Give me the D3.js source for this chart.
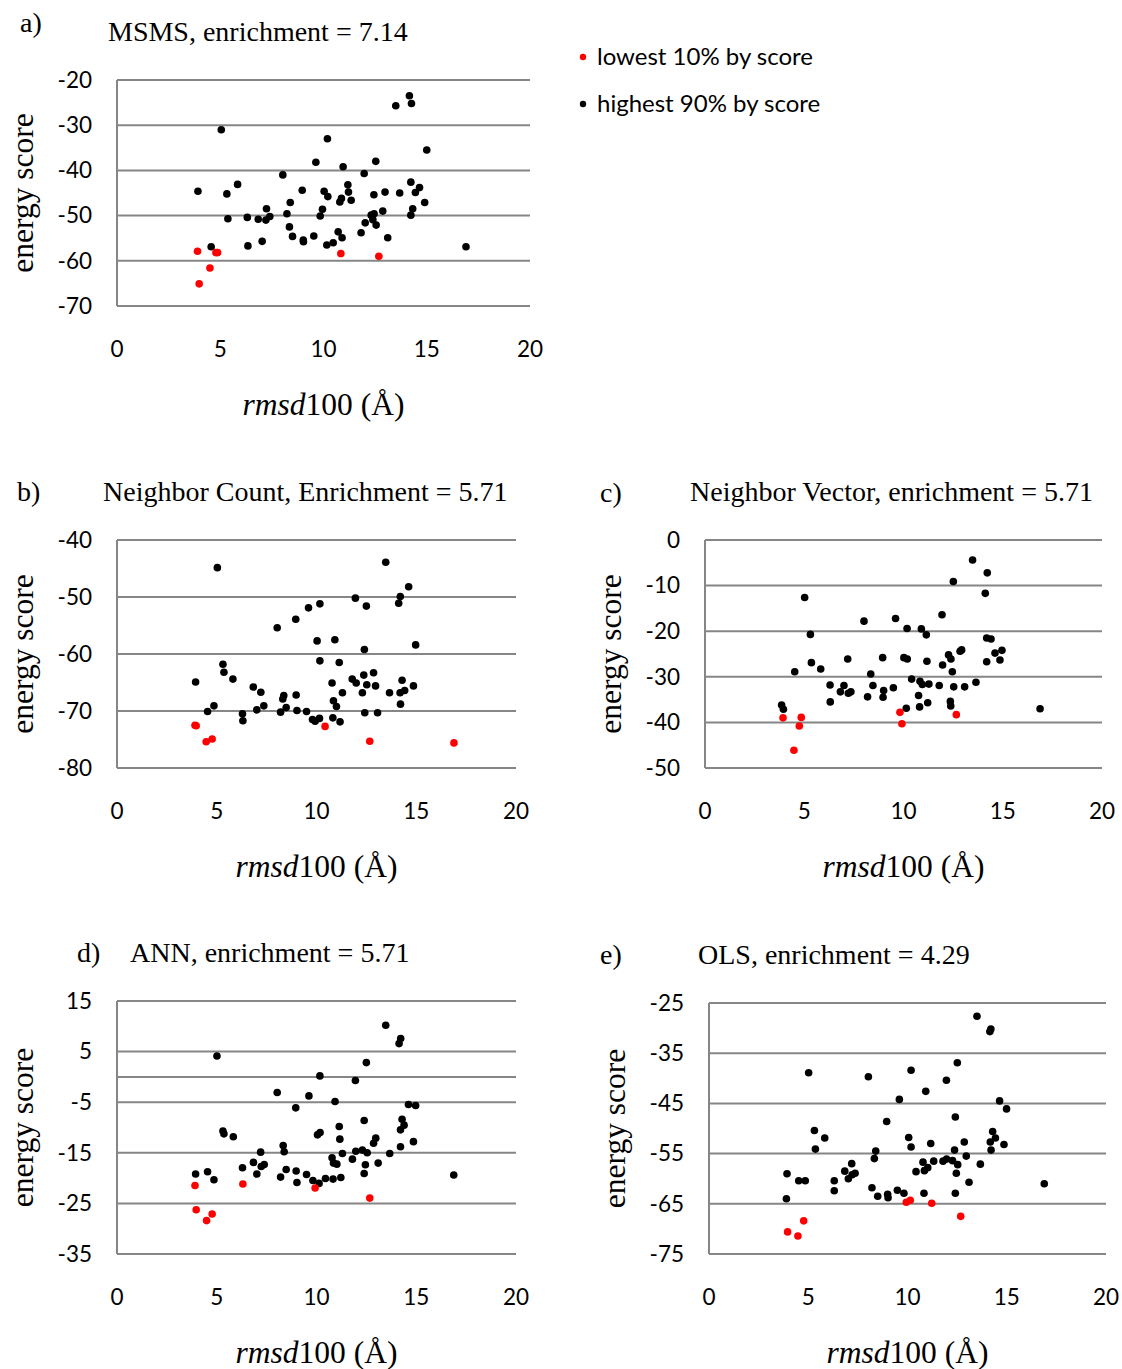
<!DOCTYPE html>
<meta charset="utf-8">
<style>
  body { margin: 0; background: #fff; }
  svg { display: block; }
  .grid line { stroke: #868686; stroke-width: 2; }
  .tick-label { font-family: Lato, "Open Sans", sans-serif; font-size: 22.5px; fill: #000; }
  .serif { font-family: "Liberation Serif", "Times New Roman", serif; fill: #000; }
  .legend text { font-family: Lato, "Open Sans", sans-serif; font-size: 24px; fill: #000; }
</style>
<body>
<script src="https://cdnjs.cloudflare.com/ajax/libs/d3/7.8.5/d3.min.js"></script>
<script>

  // ---- data: [rmsd100, energy score] ----
  var msmsHigh = [[14.16,-23.5],[14.26,-25.2],[13.5,-25.7],[5.05,-31.0],[10.19,-33.0],[15.0,-35.5],[9.63,-38.2],
    [12.53,-38.0],[10.95,-39.2],[8.03,-41.0],[11.97,-40.7],[3.92,-44.6],[5.84,-43.1],[5.32,-45.2],[8.97,-44.4],
    [10.03,-44.6],[10.21,-45.8],[11.18,-43.2],[11.21,-44.8],[10.87,-46.2],[10.79,-47.0],[11.34,-46.6],[12.44,-45.4],
    [12.98,-44.8],[13.69,-45.0],[14.23,-42.6],[14.65,-43.8],[14.45,-44.9],[14.9,-47.1],[14.32,-48.5],[14.23,-49.9],
    [8.39,-47.1],[7.24,-48.5],[8.23,-49.6],[9.95,-48.6],[9.84,-50.1],[5.37,-50.7],[6.31,-50.4],[6.84,-50.8],
    [7.21,-51.0],[7.40,-50.2],[8.35,-52.5],[8.5,-54.6],[9.02,-55.4],[9.03,-55.8],[9.53,-54.5],[12.87,-49.0],
    [12.31,-49.9],[12.45,-49.6],[12.39,-50.9],[12.55,-52.1],[12.02,-51.6],[11.82,-53.8],[10.71,-53.6],[10.9,-54.9],
    [13.11,-54.9],[10.47,-56.0],[10.16,-56.5],[7.03,-55.7],[6.34,-56.7],[4.56,-56.9],[16.9,-56.9]];
  var msmsLow = [[3.9,-57.9],[4.79,-58.2],[4.87,-58.2],[10.84,-58.4],[12.68,-59.0],[4.5,-61.6],[3.98,-65.1]];

  var countHigh = [[5.03,-44.85],[13.47,-43.9],[14.62,-48.2],[14.2,-49.9],[14.12,-51.1],[11.95,-50.2],[12.5,-51.6],
    [9.6,-51.9],[10.17,-51.2],[8.96,-53.9],[8.03,-55.4],[10.03,-57.7],[10.92,-57.5],[12.4,-59.2],[14.97,-58.4],
    [10.17,-61.2],[11.14,-61.5],[5.31,-61.8],[5.36,-63.2],[5.81,-64.4],[3.94,-64.9],[6.83,-65.8],[7.21,-66.7],
    [7.36,-69.1],[7.01,-69.8],[4.86,-69.1],[4.54,-70.1],[6.29,-70.5],[6.31,-71.7],[8.36,-67.3],[8.31,-67.9],
    [8.48,-69.4],[8.2,-70.2],[8.98,-67.2],[9.02,-69.9],[9.5,-70.1],[9.8,-71.5],[9.93,-71.8],[10.15,-71.3],
    [10.78,-65.1],[10.85,-68.2],[11.0,-69.2],[11.3,-66.8],[10.82,-71.2],[11.18,-71.9],[11.79,-64.4],[11.99,-65.1],
    [12.37,-63.7],[12.86,-63.3],[12.52,-65.4],[12.96,-65.6],[12.3,-66.8],[12.42,-70.3],[13.06,-70.3],[13.66,-66.8],
    [14.29,-64.6],[14.19,-66.8],[14.42,-66.4],[14.86,-65.6],[14.21,-68.8]];
  var countLow = [[3.91,-72.5],[3.97,-72.6],[4.47,-75.4],[4.77,-74.9],[10.43,-72.7],[12.67,-75.3],[16.89,-75.6]];

  var vectorHigh = [[13.48,-4.4],[14.22,-7.2],[12.51,-9.1],[14.12,-11.7],[5.02,-12.6],[11.94,-16.4],[8.01,-17.8],
    [9.6,-17.2],[10.18,-19.4],[10.9,-19.5],[11.15,-20.8],[5.31,-20.7],[14.19,-21.5],[14.41,-21.7],[12.93,-24.1],
    [12.85,-24.4],[14.96,-24.2],[14.61,-24.8],[14.86,-26.3],[14.19,-26.7],[12.27,-25.2],[12.39,-26.1],[11.97,-27.4],
    [12.46,-28.9],[11.18,-26.6],[10.02,-25.8],[10.19,-26.1],[8.95,-25.8],[7.19,-26.1],[5.36,-26.9],[5.83,-28.3],
    [4.52,-28.9],[8.35,-29.4],[8.46,-31.9],[6.3,-31.8],[7.0,-31.9],[6.82,-33.3],[7.22,-33.6],[7.35,-33.3],
    [9.0,-33.0],[8.97,-34.5],[9.49,-32.4],[8.19,-34.4],[6.31,-35.5],[10.41,-30.5],[10.83,-31.0],[10.95,-31.7],
    [11.28,-31.6],[11.8,-31.9],[12.53,-32.2],[13.08,-32.2],[13.65,-31.2],[10.76,-34.1],[11.22,-35.7],[10.81,-36.6],
    [10.14,-36.9],[12.36,-35.4],[12.38,-36.4],[3.86,-36.2],[3.95,-37.1],[16.88,-37.0]];
  var vectorLow = [[3.93,-39.0],[4.85,-38.9],[4.75,-40.8],[4.48,-46.1],[9.82,-37.8],[9.92,-40.3],[12.66,-38.3]];

  var annHigh = [[13.47,10.2],[14.22,7.57],[14.14,6.58],[5.01,4.14],[12.5,2.83],[10.17,0.2],[11.95,-0.72],
    [8.03,-3.09],[9.62,-3.75],[10.93,-4.87],[8.96,-6.12],[14.61,-5.46],[14.97,-5.66],[12.39,-8.62],[14.29,-8.36],
    [14.39,-9.54],[14.21,-10.46],[11.14,-9.8],[11.17,-12.3],[10.05,-11.45],[10.18,-11.0],[5.31,-10.7],[5.36,-11.25],
    [5.83,-11.84],[8.33,-13.55],[8.38,-14.8],[7.2,-14.87],[6.84,-16.9],[7.23,-17.7],[7.38,-17.3],[6.29,-17.96],
    [7.01,-19.2],[8.48,-18.3],[8.98,-18.6],[8.2,-19.8],[9.02,-20.86],[9.5,-19.3],[9.82,-20.46],[10.13,-21.05],
    [10.45,-20.07],[10.83,-20.2],[11.22,-19.87],[10.78,-15.99],[10.85,-17.04],[11.02,-17.24],[11.3,-15.13],
    [11.8,-16.25],[11.97,-14.7],[12.3,-14.47],[12.54,-15.0],[12.45,-17.37],[12.39,-19.1],[13.09,-17.04],
    [12.86,-13.1],[12.97,-12.1],[13.67,-15.13],[14.21,-13.8],[14.86,-12.8],[3.94,-19.2],[4.54,-18.75],
    [4.86,-20.33],[16.88,-19.4]];
  var annLow = [[3.91,-21.45],[6.31,-21.18],[9.93,-21.97],[12.67,-23.95],[3.97,-26.25],[4.77,-27.1],[4.49,-28.4]];

  var olsHigh = [[13.5,-27.65],[14.2,-30.2],[14.15,-30.7],[5.02,-38.9],[8.03,-39.7],[10.18,-38.4],[12.51,-36.9],
    [11.96,-40.4],[10.92,-42.6],[9.59,-44.2],[14.64,-44.5],[14.99,-46.1],[12.41,-47.7],[8.95,-48.6],[5.31,-50.4],
    [5.83,-51.9],[5.36,-54.1],[10.06,-51.8],[10.18,-53.7],[11.17,-53.0],[8.4,-54.5],[8.33,-56.0],[14.29,-50.6],
    [14.43,-51.9],[14.17,-52.7],[14.86,-53.2],[14.21,-54.3],[12.86,-52.7],[12.37,-54.3],[12.96,-55.5],[13.67,-57.1],
    [11.79,-56.5],[11.97,-56.1],[12.27,-56.4],[12.53,-57.2],[11.32,-56.5],[10.78,-56.7],[11.02,-57.8],[10.85,-58.4],
    [10.43,-58.6],[12.46,-58.9],[13.1,-60.7],[7.19,-57.0],[6.84,-58.5],[7.36,-58.9],[7.21,-59.2],[7.02,-60.0],
    [3.93,-59.0],[4.52,-60.4],[4.85,-60.4],[6.31,-60.4],[6.31,-62.4],[3.9,-64.0],[8.21,-61.8],[8.5,-63.5],
    [9.0,-63.1],[9.02,-63.8],[9.49,-62.3],[9.82,-62.9],[10.83,-62.9],[12.41,-62.9],[16.89,-61.0]];
  var olsLow = [[9.94,-64.7],[10.14,-64.3],[11.22,-64.9],[12.68,-67.5],[4.77,-68.4],[3.96,-70.6],[4.48,-71.4]];

  var xTicks = [0, 5, 10, 15, 20];
  var legendLabels = ["lowest 10% by score", "highest 90% by score"];

  var panels = [
    {tag: "a)", title: "MSMS, enrichment = 7.14", hi: msmsHigh, lo: msmsLow, yDomain: [-70, -20],
     left: 117, top: 80, w: 413, h: 226, tagX: 20, tagDy: -9, titleX: 108},
    {tag: "b)", title: "Neighbor Count, Enrichment = 5.71", hi: countHigh, lo: countLow, yDomain: [-80, -40],
     left: 117, top: 540, w: 399, h: 228, tagX: 17, tagDy: 0, titleX: 103},
    {tag: "c)", title: "Neighbor Vector, enrichment = 5.71", hi: vectorHigh, lo: vectorLow, yDomain: [-50, 0],
     left: 705, top: 540, w: 397, h: 228, tagX: 600, tagDy: 1, titleX: 690},
    {tag: "d)", title: "ANN, enrichment = 5.71", hi: annHigh, lo: annLow, yDomain: [-35, 15],
     left: 117, top: 1001, w: 399, h: 253, tagX: 77, tagDy: 0, titleX: 130},
    {tag: "e)", title: "OLS, enrichment = 4.29", hi: olsHigh, lo: olsLow, yDomain: [-75, -25],
     left: 709, top: 1003, w: 397, h: 251, tagX: 600, tagDy: 0, titleX: 698}
  ];

  var svg = d3.select("body").append("svg")
      .attr("width", 1122)
      .attr("height", 1369);

  panels.forEach(function(p) {
    var x = d3.scaleLinear().domain([0, 20]).range([0, p.w]);
    var y = d3.scaleLinear().domain(p.yDomain).range([p.h, 0]);
    var yTicks = d3.range(p.yDomain[0], p.yDomain[1] + 1, 10);

    var g = svg.append("g")
        .attr("transform", "translate(" + p.left + "," + p.top + ")");

    // gridlines (plus the horizontal axis at 0 when it is inside the range)
    var gridVals = yTicks.slice();
    if (p.yDomain[0] < 0 && p.yDomain[1] > 0) gridVals.push(0);
    g.append("g").attr("class", "grid")
      .selectAll("line").data(gridVals).join("line")
        .attr("x1", 0).attr("x2", p.w)
        .attr("y1", function(d) { return y(d); })
        .attr("y2", function(d) { return y(d); });

    g.append("g").attr("class", "grid").append("line")
        .attr("x1", 0).attr("x2", 0).attr("y1", 0).attr("y2", p.h);

    // tick labels
    g.append("g").selectAll("text").data(yTicks).join("text")
        .attr("class", "tick-label")
        .attr("x", -25)
        .attr("y", function(d) { return y(d); })
        .attr("dy", "0.35em")
        .attr("text-anchor", "end")
        .text(function(d) { return d; });

    g.append("g").selectAll("text").data(xTicks).join("text")
        .attr("class", "tick-label")
        .attr("x", function(d) { return x(d); })
        .attr("y", p.h + 43)
        .attr("dy", "0.35em")
        .attr("text-anchor", "middle")
        .text(function(d) { return d; });

    // points
    g.append("g").selectAll("circle").data(p.hi).join("circle")
        .attr("cx", function(d) { return x(d[0]); })
        .attr("cy", function(d) { return y(d[1]); })
        .attr("r", 3.8)
        .attr("fill", "#000");

    g.append("g").selectAll("circle").data(p.lo).join("circle")
        .attr("cx", function(d) { return x(d[0]); })
        .attr("cy", function(d) { return y(d[1]); })
        .attr("r", 3.8)
        .attr("fill", "#ff0000");

    // axis titles
    var xt = g.append("text")
        .attr("class", "serif")
        .attr("x", p.w / 2)
        .attr("y", p.h + 98)
        .attr("dy", "0.35em")
        .attr("text-anchor", "middle")
        .style("font-size", "31.5px");
    xt.append("tspan").style("font-style", "italic").text("rmsd");
    xt.append("tspan").text("100 (Å)");

    g.append("text")
        .attr("class", "serif")
        .attr("transform", "translate(-95," + (p.h / 2) + ") rotate(-90)")
        .attr("dy", "0.35em")
        .attr("text-anchor", "middle")
        .style("font-size", "31.5px")
        .text("energy score");

    // panel tag and title
    svg.append("text")
        .attr("class", "serif")
        .attr("x", p.tagX)
        .attr("y", p.top - 49 + p.tagDy)
        .attr("dy", "0.35em")
        .style("font-size", "28px")
        .text(p.tag);

    svg.append("text")
        .attr("class", "serif")
        .attr("x", p.titleX)
        .attr("y", p.top - 49)
        .attr("dy", "0.35em")
        .style("font-size", "28px")
        .text(p.title);
  });

  // legend
  var legend = svg.append("g").attr("class", "legend");
  var legendColors = ["#ff0000", "#000"];
  legend.selectAll("circle").data(legendLabels).join("circle")
      .attr("cx", 583)
      .attr("cy", function(d, i) { return 57 + i * 47; })
      .attr("r", 3.2)
      .attr("fill", function(d, i) { return legendColors[i]; });
  legend.selectAll("text").data(legendLabels).join("text")
      .attr("x", 597)
      .attr("y", function(d, i) { return 57 + i * 47; })
      .attr("dy", "0.35em")
      .text(function(d) { return d; });

</script>
</body>
